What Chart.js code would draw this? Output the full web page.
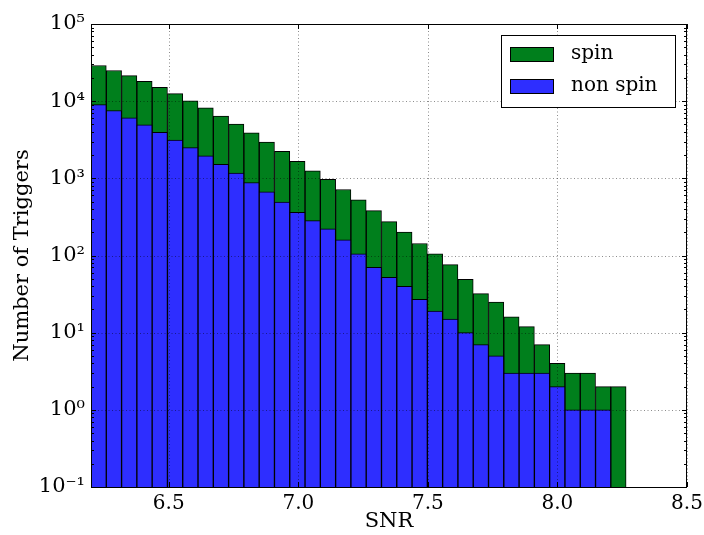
<!DOCTYPE html>
<html>
<head>
<meta charset="utf-8">
<script src="https://cdn.jsdelivr.net/npm/chart.js@4.4.0/dist/chart.umd.min.js"></script>
<style>
  html, body { margin: 0; padding: 0; background: #fff; }
  #wrap { width: 704px; height: 535px; }
</style>
</head>
<body>
<div id="wrap"><canvas id="snr-hist" width="704" height="535"></canvas></div>
<script>
// SNR histogram: 35 equal bins starting at 6.2
var binStart = 6.2;
var binWidth = 0.059;

// trigger counts per bin
var spinCounts = [29000, 25000, 21400, 18100, 15100, 12500, 10100, 8200, 6400, 5040,
                  3880, 2960, 2240, 1660, 1250, 968, 716, 525, 382, 275,
                  201, 143, 105, 76, 49, 32, 25, 16, 12, 7,
                  4, 3, 3, 2, 2];
var nonSpinCounts = [9000, 7570, 6080, 4930, 3960, 3140, 2500, 1950, 1520, 1170,
                     884, 667, 494, 363, 283, 222, 160, 105, 70, 52,
                     40, 27, 19, 15, 10, 7, 5, 3, 3, 3,
                     2, 1, 1, 1, null];

var xTickValues = [6.5, 7.0, 7.5, 8.0, 8.5];
var yTickValues = [0.1, 1, 10, 100, 1000, 10000, 100000];
var yTickLabels = ['10⁻¹', '10⁰', '10¹', '10²', '10³', '10⁴', '10⁵'];

var serif = "'DejaVu Serif', serif";
var green = '#007f1c';
var blue = '#2e2eff';

function toPoints(counts) {
    return counts.map(function (c, i) {
        return { x: binStart + (i + 0.5) * binWidth, y: c };
    });
}

// gridlines on top of the bars, inward tick marks, frame and legend box
var overlay = {
    id: 'overlay',
    afterDatasetsDraw: function (chart) {
        var c = chart.ctx, a = chart.chartArea;
        var xs = chart.scales.x, ys = chart.scales.y;
        c.save();

        // dotted grid
        c.strokeStyle = 'rgba(0,0,0,0.45)';
        c.lineWidth = 1;
        c.setLineDash([1, 2.5]);
        xTickValues.forEach(function (v) {
            var px = Math.round(xs.getPixelForValue(v)) + 0.5;
            c.beginPath(); c.moveTo(px, a.top); c.lineTo(px, a.bottom); c.stroke();
        });
        yTickValues.forEach(function (v) {
            var py = Math.round(ys.getPixelForValue(v)) + 0.5;
            c.beginPath(); c.moveTo(a.left, py); c.lineTo(a.right, py); c.stroke();
        });
        c.setLineDash([]);

        // tick marks pointing into the axes
        c.strokeStyle = '#000';
        c.beginPath();
        xTickValues.forEach(function (v) {
            var px = Math.round(xs.getPixelForValue(v)) + 0.5;
            c.moveTo(px, a.bottom); c.lineTo(px, a.bottom - 5);
            c.moveTo(px, a.top); c.lineTo(px, a.top + 5);
        });
        for (var d = 0; d < yTickValues.length; d++) {
            var dec = yTickValues[d];
            var py = Math.round(ys.getPixelForValue(dec)) + 0.5;
            c.moveTo(a.left, py); c.lineTo(a.left + 5, py);
            c.moveTo(a.right, py); c.lineTo(a.right - 5, py);
            if (d === yTickValues.length - 1) break;
            for (var m = 2; m <= 9; m++) {
                var pm = Math.round(ys.getPixelForValue(dec * m)) + 0.5;
                c.moveTo(a.left, pm); c.lineTo(a.left + 3, pm);
                c.moveTo(a.right, pm); c.lineTo(a.right - 3, pm);
            }
        }
        c.stroke();

        // frame
        c.strokeRect(Math.round(a.left) + 0.5, Math.round(a.top) + 0.5,
                     Math.round(a.right - a.left) - 1, Math.round(a.bottom - a.top));

        // legend
        var bx = a.right - 186, by = a.top + 11, bw = 174, bh = 72;
        c.fillStyle = '#fff';
        c.fillRect(bx, by, bw, bh);
        c.strokeRect(bx + 0.5, by + 0.5, bw, bh);
        c.font = '20px ' + serif;
        c.textBaseline = 'middle';
        chart.data.datasets.forEach(function (ds, i) {
            var sy = by + 12 + i * 32;
            c.fillStyle = ds.backgroundColor;
            c.fillRect(bx + 9, sy, 44, 15);
            c.strokeRect(bx + 9.5, sy + 0.5, 43, 14);
            c.fillStyle = '#000';
            c.fillText(ds.label, bx + 70, sy + 7);
        });
        c.restore();
    }
};

var ctx = document.getElementById('snr-hist').getContext('2d');
var snrChart = new Chart(ctx, {
    type: 'bar',
    data: {
        datasets: [{
            label: 'spin',
            data: toPoints(spinCounts),
            backgroundColor: green,
            borderColor: '#000',
            borderWidth: 1,
            order: 1
        }, {
            label: 'non spin',
            data: toPoints(nonSpinCounts),
            backgroundColor: blue,
            borderColor: '#000',
            borderWidth: 1,
            order: 0
        }]
    },
    options: {
        responsive: false,
        animation: false,
        layout: { padding: { top: 24, right: 17, bottom: 0, left: 0 } },
        datasets: {
            bar: { grouped: false, barPercentage: 1, categoryPercentage: 1 }
        },
        plugins: {
            legend: { display: false },
            tooltip: { enabled: false }
        },
        scales: {
            x: {
                type: 'linear',
                offset: false,
                min: 6.2,
                max: 8.5,
                afterBuildTicks: function (s) {
                    s.ticks = xTickValues.map(function (v) { return { value: v }; });
                },
                afterFit: function (s) {
                    s.height = 48;
                    s.paddingLeft = 0; s.paddingRight = 0;
                },
                ticks: {
                    callback: function (v) { return v.toFixed(1); },
                    font: { family: serif, size: 20 },
                    color: '#000',
                    padding: 5,
                    maxRotation: 0,
                    autoSkip: false
                },
                grid: { display: false, drawTicks: false },
                border: { display: false },
                title: {
                    display: true,
                    text: 'SNR',
                    font: { family: serif, size: 21 },
                    color: '#000',
                    padding: { top: 0, bottom: 1 }
                }
            },
            y: {
                type: 'logarithmic',
                min: 0.1,
                max: 100000,
                afterBuildTicks: function (s) {
                    s.ticks = yTickValues.map(function (v) { return { value: v }; });
                },
                afterFit: function (s) {
                    s.width = 91;
                    s.paddingTop = 0; s.paddingBottom = 0;
                },
                ticks: {
                    callback: function (v, i) { return yTickLabels[i]; },
                    font: { family: serif, size: 21 },
                    color: '#000',
                    padding: 6,
                    autoSkip: false
                },
                grid: { display: false, drawTicks: false },
                border: { display: false },
                title: {
                    display: true,
                    text: 'Number of Triggers',
                    font: { family: serif, size: 21 },
                    color: '#000',
                    padding: { top: 10, bottom: 0 }
                }
            }
        }
    },
    plugins: [overlay]
});
</script>
</body>
</html>
